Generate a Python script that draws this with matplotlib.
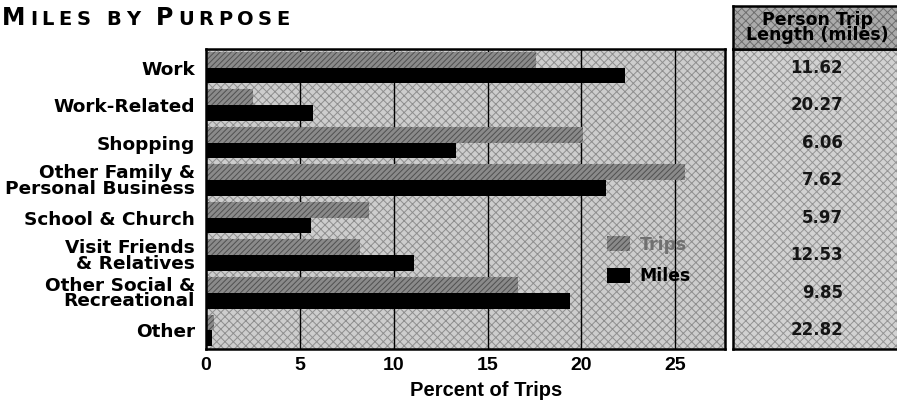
import numpy as np
import matplotlib.pyplot as plt
from matplotlib.patches import Rectangle, Patch

# Share of trips and of miles by trip purpose (percent)
purposes = ["Work", "Work-Related", "Shopping", "Other Family &\nPersonal Business",
            "School & Church", "Visit Friends\n& Relatives", "Other Social &\nRecreational",
            "Other"]
trips = [17.6, 2.5, 20.1, 25.5, 8.7, 8.2, 16.6, 0.4]
miles = [22.3, 5.7, 13.3, 21.3, 5.6, 11.1, 19.4, 0.3]
trip_length = [11.62, 20.27, 6.06, 7.62, 5.97, 12.53, 9.85, 22.82]
xticks = [0, 5, 10, 15, 20, 25]

plt.rcParams["hatch.linewidth"] = 0.7
W, H = 897, 408
bg = "#cdcdcd"
bg_hatch = "#8e8e8e"
trip_col = "#8a8a8a"
wide = "DejaVu Sans"
narrow = "Liberation Sans"

fig = plt.figure(figsize=(W / 100, H / 100), dpi=100)


def textured(ax, face, hatch_col):
    ax.set_facecolor("none")
    ax.add_patch(Rectangle((0, 0), 1, 1, transform=ax.transAxes, facecolor=face,
                           edgecolor=hatch_col, hatch="xxxx", lw=0, zorder=0))


# main bar chart
ax = fig.add_axes([206 / W, 59 / H, 519 / W, 300 / H])
textured(ax, bg, bg_hatch)
y = np.arange(len(purposes))
ax.set_xlim(0, 27.65)
ax.set_ylim(len(purposes) - 0.5, -0.5)
ax.vlines(xticks[1:], -0.5, len(purposes) - 0.5, color="black", lw=1.0, zorder=1)
ax.barh(y - 0.21, trips, height=0.42, color=trip_col, edgecolor="#505050",
        hatch="//////", lw=0, zorder=2)
ax.barh(y + 0.21, miles, height=0.42, color="black", lw=0, zorder=2)

for s in ax.spines.values():
    s.set_linewidth(1.8)
ax.tick_params(length=0)
ax.set_yticks(y)
ax.set_yticklabels(purposes, fontsize=13.3, fontweight="bold", family=wide,
                   linespacing=0.82)
ax.tick_params(axis="y", pad=8)
ax.set_xticks(xticks)
ax.set_xticklabels([str(t) for t in xticks], fontsize=14, fontweight="bold", family=narrow)
ax.tick_params(axis="x", pad=6)
ax.set_xlabel("Percent of Trips", fontsize=14.5, fontweight="bold", family=narrow)
ax.xaxis.set_label_coords(0.54, -0.105)

handles = [Patch(facecolor=trip_col, edgecolor="#505050", hatch="//////", lw=0, label="Trips"),
           Patch(facecolor="black", lw=0, label="Miles")]
leg = ax.legend(handles=handles, loc="upper left", bbox_to_anchor=(0.7726, 0.378),
                frameon=False, borderpad=0, borderaxespad=0,
                prop={"family": wide, "weight": "bold", "size": 12.4},
                handlelength=1.34, handleheight=1.0, handletextpad=0.55, labelspacing=0.8)
leg.get_texts()[0].set_color("#707070")

# trip length table, body rows aligned with the chart rows
tax = fig.add_axes([733 / W, 59 / H, 175 / W, 300 / H])
textured(tax, "#d2d2d2", "#949494")
tax.set_xlim(0, 1)
tax.set_ylim(len(purposes) - 0.5, -0.5)
tax.set_xticks([])
tax.set_yticks([])
for s in tax.spines.values():
    s.set_linewidth(1.8)
for i, v in enumerate(trip_length):
    tax.text(110 / 175, i, f"{v:.2f}", ha="right", va="center", fontsize=12,
             fontweight="bold", family=wide, color="#151515")

hax = fig.add_axes([733 / W, 359 / H, 175 / W, 43 / H])
textured(hax, "#ababab", "#6e6e6e")
hax.set_xticks([])
hax.set_yticks([])
for s in hax.spines.values():
    s.set_linewidth(1.8)
hax.text(84 / 175, 0.5, "Person Trip\nLength (miles)", ha="center", va="center",
         fontsize=12.5, fontweight="bold", family=wide, linespacing=0.8,
         transform=hax.transAxes)

# small-caps title: one text per letter, with extra tracking
r = fig.canvas.get_renderer()
x = 2
for word, size in [("M", 17), ("ILES BY ", 14), ("P", 17), ("URPOSE", 14)]:
    for ch in word:
        t = fig.text(x / W, 1 - 25 / H, ch, fontsize=size, fontweight="bold",
                     family=wide, va="baseline")
        x += t.get_window_extent(r).width + 4.6

fig.savefig("out.png", dpi=100)
